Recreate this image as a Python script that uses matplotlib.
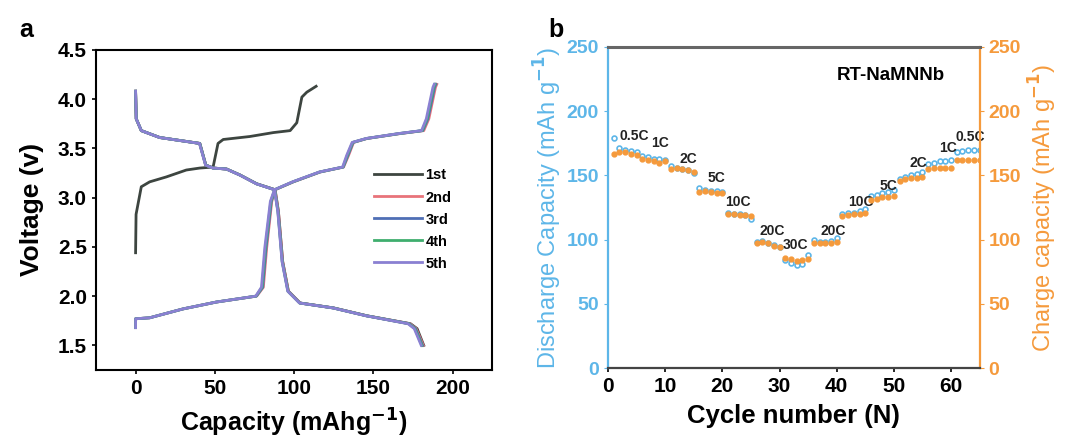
import matplotlib.pyplot as plt
import numpy as np

plt.rcParams['font.family'] = ['Liberation Sans', 'DejaVu Sans']
plt.rcParams['font.weight'] = 'bold'
plt.rcParams['mathtext.default'] = 'bf'

# ---- panel a: charge / discharge profiles ----
first_charge_cap = [0, 0.3, 3.6, 8.9, 19.4, 32, 40.5, 48.9, 52, 55.3, 72, 86.9, 97.5, 101.7, 104.9, 108, 113.9]
first_charge_v = [2.44, 2.83, 3.11, 3.16, 3.21, 3.28, 3.30, 3.31, 3.55, 3.59, 3.62, 3.66, 3.68, 3.76, 4.02, 4.07, 4.13]

dis_v = [4.08, 3.80, 3.68, 3.61, 3.55, 3.33, 3.30, 3.29, 3.23, 3.14, 3.08, 2.86, 2.35, 2.05, 1.93, 1.88, 1.80, 1.72, 1.67, 1.50]
dis_cap = {
    '1st': [0, 0.4, 3.6, 15.2, 40.5, 44.3, 48.9, 57.4, 65.8, 76.4, 88, 90.1, 92.8, 96.4, 103.8, 124.9, 146, 173.4, 177.6, 181.8],
    '2nd': [0, 0.4, 3.6, 15.2, 40.5, 44.3, 48.9, 57.4, 65.8, 76.4, 88, 90.1, 92.8, 96.4, 103.8, 124.9, 146, 173.0, 177.0, 181.5],
    '3rd': [0, 0.4, 3.6, 15.2, 40.5, 44.3, 48.9, 57.4, 65.8, 76.4, 87.8, 89.9, 92.6, 96.2, 103.6, 124.7, 145.8, 172.6, 176.6, 181.0],
    '4th': [0, 0.4, 3.6, 15.2, 40.4, 44.2, 48.8, 57.3, 65.7, 76.3, 87.7, 89.8, 92.5, 96.1, 103.5, 124.5, 145.6, 172.2, 176.2, 180.6],
    '5th': [0, 0.4, 3.6, 15.1, 40.3, 44.1, 48.7, 57.2, 65.6, 76.2, 87.6, 89.7, 92.4, 96.0, 103.4, 124.4, 145.4, 171.8, 175.8, 180.2],
}

chg_v = [1.68, 1.77, 1.78, 1.87, 1.94, 2.00, 2.09, 2.49, 2.96, 3.08, 3.16, 3.26, 3.31, 3.43, 3.56, 3.60, 3.65, 3.68, 3.80, 4.12, 4.15]
chg_cap = {
    '2nd': [0, 0, 8.9, 29.9, 51, 76.4, 80.6, 82.7, 85.9, 88, 99.6, 116.5, 131.2, 134.4, 137.5, 146, 167, 181.8, 185.0, 189.2, 190.0],
    '3rd': [0, 0, 8.9, 29.9, 51, 76.2, 80.2, 82.3, 85.6, 87.8, 99.4, 116.3, 131.0, 134.0, 137.2, 145.8, 166.6, 181.2, 184.4, 188.6, 189.4],
    '4th': [0, 0, 8.9, 29.9, 51, 76.0, 79.8, 81.9, 85.3, 87.7, 99.2, 116.1, 130.8, 133.6, 136.9, 145.6, 166.2, 180.8, 183.9, 188.1, 188.9],
    '5th': [0, 0, 8.9, 29.9, 51, 75.8, 79.4, 81.5, 85.0, 87.6, 99.0, 115.9, 130.6, 133.2, 136.6, 145.4, 165.8, 180.4, 183.4, 187.6, 188.4],
}

cycle_colors = {'1st': '#3d4540', '2nd': '#e8737a', '3rd': '#4f6fb5', '4th': '#3fae6e', '5th': '#8a80d2'}

# ---- panel b: rate performance ----
cycles = np.arange(1, 66)
discharge = [179, 171, 170, 169, 168,
             165, 164, 163, 163, 162,
             157, 156, 155, 154, 152,
             140, 139, 138, 138, 137,
             121, 120, 120, 119, 116,
             98, 99, 97, 96, 94,
             84, 82, 80, 81, 88,
             100, 98, 98, 99, 101,
             120, 121, 121, 122, 124,
             134, 135, 136, 137, 139,
             147, 149, 150, 151, 153,
             159, 160, 161, 161, 162,
             168, 169, 170, 170, 170]
charge = [167, 168, 168, 167, 166,
          163, 162, 161, 160, 161,
          155, 156, 155, 154, 153,
          137, 138, 137, 136, 136,
          120, 120, 119, 119, 118,
          97, 98, 97, 95, 94,
          86, 85, 83, 84, 85,
          97, 97, 97, 97, 98,
          118, 119, 120, 120, 121,
          131, 132, 133, 133, 134,
          146, 147, 148, 148, 149,
          155, 156, 156, 156, 156,
          162, 162, 162, 162, 162]
rate_labels = ['0.5C', '1C', '2C', '5C', '10C', '20C', '30C', '20C', '10C', '5C', '2C', '1C', '0.5C']
label_x = [4.6, 9.1, 14, 19, 22.8, 28.7, 32.8, 39.3, 44.2, 49.1, 54.2, 59.5, 63.3]
label_y = [181, 175, 163, 148, 129, 107, 96, 107, 129, 142, 160, 171, 180]

blue = '#5db6e8'
orange = '#f59a3c'

fig = plt.figure(figsize=(10.71, 4.41), dpi=100)

# panel a
ax1 = fig.add_axes([0.0896, 0.161, 0.370, 0.726])
ax1.plot(first_charge_cap, first_charge_v, color=cycle_colors['1st'], lw=2)
for name in ['1st', '2nd', '3rd', '4th', '5th']:
    ax1.plot(dis_cap[name], dis_v, color=cycle_colors[name], lw=2,
             label=name)
    if name in chg_cap:
        ax1.plot(chg_cap[name], chg_v, color=cycle_colors[name], lw=2)
ax1.set_xlim(-25, 225)
ax1.set_ylim(1.25, 4.5)
ax1.set_xticks([0, 50, 100, 150, 200])
ax1.set_yticks([1.5, 2.0, 2.5, 3.0, 3.5, 4.0, 4.5])
ax1.tick_params(labelsize=15, width=1.2, length=3, direction='out')
for s in ax1.spines.values():
    s.set_linewidth(1.5)
ax1.set_xlabel('Capacity (mAhg$^{-1}$)', fontsize=18, fontweight='bold', labelpad=6)
ax1.set_ylabel('Voltage (v)', fontsize=19, fontweight='bold', labelpad=10)
ax1.legend(loc='center right', bbox_to_anchor=(0.93, 0.47), frameon=False,
           fontsize=10.5, handlelength=3.3, handletextpad=0.2, labelspacing=0.55)
fig.text(0.018, 0.915, 'a', fontsize=18, fontweight='bold')

# panel b
ax2 = fig.add_axes([0.5677, 0.1655, 0.347, 0.728])
ax3 = ax2.twinx()
ax2.plot(cycles, discharge, 'o', color=blue, ms=3.5, mfc='none', mew=1.2)
ax3.plot(cycles, charge, 'o', color=orange, ms=3.5)
for t, x, y in zip(rate_labels, label_x, label_y):
    ax2.text(x, y, t, fontsize=10, fontweight='bold', ha='center', va='center', color='#222222')
ax2.text(49.5, 228, 'RT-NaMNNb', fontsize=13.5, fontweight='bold', ha='center', va='center')
for a in (ax2, ax3):
    a.set_xlim(0, 65)
    a.set_ylim(0, 250)
ax2.set_xticks([0, 10, 20, 30, 40, 50, 60])
ax2.set_yticks([0, 50, 100, 150, 200, 250])
ax3.set_yticks([0, 50, 100, 150, 200, 250])
ax2.tick_params(axis='x', labelsize=15, width=1.2, length=3)
ax2.tick_params(axis='y', labelsize=14, colors=blue, length=3)
ax3.tick_params(axis='y', labelsize=14, colors=orange, length=3)
ax3.spines['left'].set_color(blue)
ax3.spines['right'].set_color(orange)
ax3.spines['top'].set_color('#666666')
ax3.spines['bottom'].set_color('#444444')
for s in ax3.spines.values():
    s.set_linewidth(1.6)
ax3.spines['top'].set_linewidth(2.2)
for s in ax2.spines.values():
    s.set_visible(False)
ax2.set_xlabel('Cycle number (N)', fontsize=18.5, fontweight='bold', labelpad=6)
ax2.set_ylabel('Discharge Capacity (mAh g$^{-1}$)', fontsize=17, color=blue, fontweight='normal', labelpad=2)
ax3.set_ylabel('Charge capacity (mAh g$^{-1}$)', fontsize=17, color=orange, fontweight='normal', labelpad=4)
fig.text(0.512, 0.915, 'b', fontsize=18, fontweight='bold')

fig.savefig('out.png', dpi=100)
